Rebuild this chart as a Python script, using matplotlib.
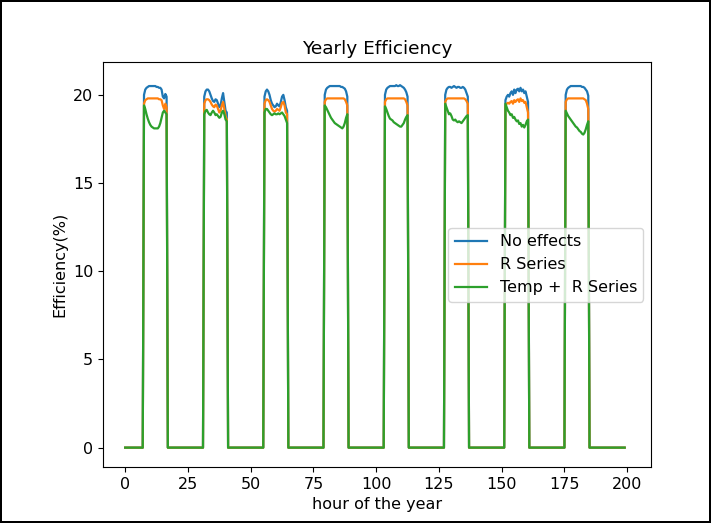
import numpy as np
import matplotlib
matplotlib.use("Agg")
import matplotlib.pyplot as plt

# last dark hour before each day's output starts (half-hour samples follow)
DAY_STARTS = [7, 31, 55, 79, 103, 127, 151, 175]
LAST_HOUR = 199
STEP = 0.5

# daytime efficiency (%) per day, 7.5 .. 16.5 h after midnight
NO_EFFECTS = [
    [20.0, 20.3, 20.4, 20.45, 20.5, 20.5, 20.5, 20.5, 20.5, 20.5, 20.45, 20.45, 20.4, 20.4, 20.3, 19.9, 19.8, 20.05, 19.9],
    [19.9, 20.2, 20.3, 20.3, 20.2, 20.0, 19.8, 19.65, 19.6, 19.75, 19.7, 19.5, 19.3, 19.4, 19.8, 20.1, 19.6, 19.1, 19.0],
    [19.9, 20.2, 20.3, 20.2, 20.0, 19.7, 19.5, 19.4, 19.3, 19.35, 19.5, 19.4, 19.35, 19.6, 19.9, 20.0, 19.7, 19.3, 19.1],
    [20.0, 20.3, 20.4, 20.45, 20.5, 20.5, 20.5, 20.5, 20.5, 20.5, 20.5, 20.5, 20.5, 20.45, 20.45, 20.4, 20.35, 20.2, 19.9],
    [20.0, 20.3, 20.4, 20.45, 20.5, 20.5, 20.5, 20.5, 20.5, 20.55, 20.5, 20.5, 20.55, 20.5, 20.45, 20.4, 20.3, 20.15, 19.9],
    [20.0, 20.3, 20.4, 20.45, 20.45, 20.4, 20.45, 20.5, 20.45, 20.4, 20.45, 20.45, 20.4, 20.4, 20.45, 20.4, 20.3, 20.1, 19.9],
    [19.7, 19.9, 20.0, 19.9, 20.1, 20.2, 20.0, 20.3, 20.1, 20.3, 20.35, 20.2, 20.4, 20.2, 20.3, 20.1, 20.2, 19.9, 19.6],
    [20.0, 20.3, 20.4, 20.45, 20.5, 20.5, 20.5, 20.5, 20.5, 20.5, 20.5, 20.5, 20.5, 20.45, 20.45, 20.4, 20.3, 20.2, 19.95],
]
R_SERIES = [
    [19.5, 19.7, 19.75, 19.8, 19.8, 19.8, 19.8, 19.8, 19.8, 19.8, 19.8, 19.8, 19.75, 19.75, 19.7, 19.4, 19.2, 19.5, 19.3],
    [19.5, 19.7, 19.75, 19.75, 19.7, 19.6, 19.45, 19.35, 19.3, 19.45, 19.4, 19.2, 19.0, 19.1, 19.4, 19.6, 19.2, 18.8, 18.6],
    [19.5, 19.7, 19.75, 19.7, 19.6, 19.4, 19.2, 19.1, 19.05, 19.1, 19.2, 19.15, 19.1, 19.3, 19.55, 19.6, 19.4, 19.0, 18.9],
    [19.6, 19.75, 19.8, 19.8, 19.8, 19.8, 19.8, 19.8, 19.8, 19.8, 19.8, 19.8, 19.8, 19.8, 19.8, 19.8, 19.75, 19.6, 19.4],
    [19.6, 19.75, 19.8, 19.8, 19.8, 19.8, 19.8, 19.8, 19.8, 19.8, 19.8, 19.8, 19.8, 19.8, 19.8, 19.8, 19.75, 19.6, 19.4],
    [19.6, 19.75, 19.8, 19.8, 19.8, 19.8, 19.8, 19.8, 19.8, 19.8, 19.8, 19.8, 19.8, 19.8, 19.8, 19.8, 19.75, 19.65, 19.5],
    [19.4, 19.5, 19.55, 19.5, 19.6, 19.65, 19.5, 19.7, 19.6, 19.7, 19.75, 19.6, 19.8, 19.65, 19.7, 19.55, 19.6, 19.3, 19.0],
    [19.6, 19.75, 19.8, 19.8, 19.8, 19.8, 19.8, 19.8, 19.8, 19.8, 19.8, 19.8, 19.8, 19.8, 19.8, 19.75, 19.7, 19.5, 19.2],
]
TEMP_R_SERIES = [
    [19.4, 19.2, 18.9, 18.65, 18.45, 18.3, 18.2, 18.15, 18.1, 18.1, 18.1, 18.1, 18.2, 18.4, 18.7, 19.0, 19.1, 19.0, 18.9],
    [18.9, 19.1, 19.15, 19.0, 18.9, 18.85, 19.0, 19.1, 19.0, 18.85, 18.9, 18.8, 18.7, 18.75, 19.0, 19.1, 18.9, 18.6, 18.5],
    [19.0, 19.2, 19.2, 19.1, 19.0, 18.9, 18.85, 18.9, 18.95, 18.9, 18.9, 18.95, 18.9, 18.95, 19.0, 18.9, 18.8, 18.6, 18.4],
    [19.4, 19.3, 19.15, 19.0, 18.85, 18.7, 18.6, 18.5, 18.4, 18.35, 18.3, 18.25, 18.2, 18.15, 18.1, 18.2, 18.4, 18.7, 18.9],
    [19.35, 19.2, 19.0, 18.8, 18.65, 18.6, 18.55, 18.45, 18.4, 18.35, 18.3, 18.25, 18.2, 18.2, 18.3, 18.4, 18.6, 18.75, 18.85],
    [19.5, 19.3, 19.1, 18.9, 18.95, 18.8, 18.6, 18.55, 18.6, 18.5, 18.45, 18.5, 18.45, 18.4, 18.5, 18.6, 18.7, 18.8, 18.85],
    [19.5, 19.3, 19.1, 19.0, 18.85, 18.9, 18.7, 18.75, 18.6, 18.5, 18.55, 18.35, 18.4, 18.2, 18.3, 18.15, 18.3, 18.5, 18.6],
    [19.1, 18.95, 18.8, 18.7, 18.6, 18.5, 18.4, 18.3, 18.2, 18.15, 18.05, 17.95, 17.9, 17.8, 17.75, 17.85, 18.05, 18.3, 18.5],
]
LABELS = ["No effects", "R Series", "Temp +  R Series"]

hours = np.arange(0, LAST_HOUR + STEP, STEP)


def build_series(days):
    # night hours stay at zero, daytime samples are dropped in per day
    eff = np.zeros_like(hours)
    for start, vals in zip(DAY_STARTS, days):
        i0 = int(round((start + STEP) / STEP))
        eff[i0:i0 + len(vals)] = vals
    return eff


fig = plt.figure(figsize=(7.11, 5.23), dpi=100)
fig.patch.set_edgecolor("black")
fig.patch.set_linewidth(1.5)
ax = fig.add_axes([0.145, 0.107, 0.771, 0.774])

for days, label in zip([NO_EFFECTS, R_SERIES, TEMP_R_SERIES], LABELS):
    ax.plot(hours, build_series(days), label=label, lw=1.6)

ax.set_title("Yearly Efficiency", fontsize=13.3)
ax.set_xlabel("hour of the year", fontsize=11.5)
ax.set_ylabel("Efficiency(%)", fontsize=11.5)
ax.tick_params(labelsize=11.5)
ax.set_xticks([0, 25, 50, 75, 100, 125, 150, 175, 200])
ax.set_yticks([0, 5, 10, 15, 20])
ax.set_xlim(-8.8, 209.6)
ax.set_ylim(-1.1, 21.85)
ax.legend(loc="center right", fontsize=11.5)

fig.savefig("out.png", dpi=100, edgecolor=fig.get_edgecolor())
